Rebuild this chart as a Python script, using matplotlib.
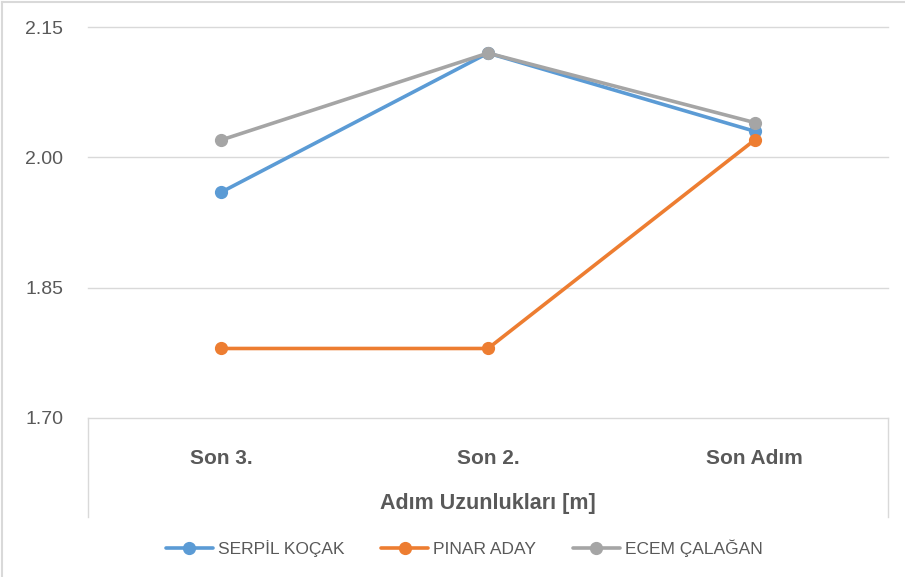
import matplotlib
matplotlib.use("Agg")
import matplotlib.pyplot as plt
from matplotlib.lines import Line2D

categories = ["Son 3.", "Son 2.", "Son Adım"]
serpil = [1.96, 2.12, 2.03]
pinar = [1.78, 1.78, 2.02]
ecem = [2.02, 2.12, 2.04]
series_names = ["SERPİL KOÇAK", "PINAR ADAY", "ECEM ÇALAĞAN"]
yticks = [1.70, 1.85, 2.00, 2.15]

colors = ["#5B9BD5", "#ED7D31", "#A5A5A5"]
fam = ["Liberation Sans", "DejaVu Sans"]
txt = "#595959"

fig = plt.figure(figsize=(9.05, 5.77), dpi=100)
ax = fig.add_axes([88/905, 1-418/577, 800/905, (418-27)/577])

x = list(range(len(categories)))
for vals, c, name in zip([serpil, pinar, ecem], colors, series_names):
    ax.plot(x, vals, color=c, lw=2.6, marker="o", ms=8.5, label=name,
            solid_capstyle="round")

ax.set_xlim(-0.5, 2.5)
ax.set_ylim(1.70, 2.15)
ax.set_yticks(yticks)
ax.set_yticklabels([f"{v:.2f}" for v in yticks], family=fam, fontsize=14, color=txt)
ax.yaxis.grid(True, color="#D9D9D9", lw=1)
for gl in ax.get_ygridlines():
    gl.set_clip_on(False)
ax.set_axisbelow(True)
ax.tick_params(axis="y", length=0, pad=18)
ax.set_xticks(x)
ax.set_xticklabels(categories, family=fam, fontsize=15, fontweight="bold", color=txt)
ax.tick_params(axis="x", length=0, pad=22)
for s in ax.spines.values():
    s.set_visible(False)

ax.set_xlabel("Adım Uzunlukları [m]", family=fam, fontsize=15.5, fontweight="bold",
              color=txt, labelpad=18)

# box lines below the plot (category axis area)
for xx in (0, 1):
    ax.add_line(Line2D([xx, xx], [0, -99/391], transform=ax.transAxes,
                       color="#D9D9D9", lw=1, clip_on=False))

leg = fig.legend(loc="center", bbox_to_anchor=(0.513, 1-548/577), ncol=3, frameon=False,
                 prop={"family": fam, "size": 12.5}, handlelength=2.7,
                 columnspacing=2.1, handletextpad=0.3)
for t in leg.get_texts():
    t.set_color(txt)

# figure border (left and top)
fig.add_artist(Line2D([2/905, 2/905], [0, 1-2/577], transform=fig.transFigure,
                      color="#D9D9D9", lw=1.5))
fig.add_artist(Line2D([2/905, 1], [1-2/577, 1-2/577], transform=fig.transFigure,
                      color="#D9D9D9", lw=1.5))

fig.savefig("out.png", dpi=100)
